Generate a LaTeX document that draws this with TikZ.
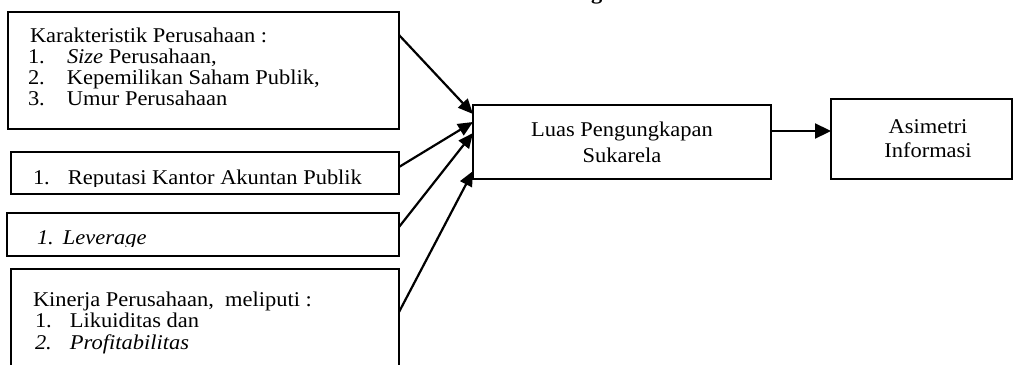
\documentclass[tikz,border=0pt]{standalone}
\usepackage{fontspec}
\setmainfont{Liberation Serif}[FakeStretch=1.07]
\usetikzlibrary{arrows.meta}
\tikzset{
  box/.style={draw, line width=1.8pt, inner sep=0pt, outer sep=0pt, anchor=north west},
  txt/.style={inner sep=0pt, outer sep=0pt, anchor=base west, font=\fontsize{21}{24}\selectfont},
  ctxt/.style={inner sep=0pt, outer sep=0pt, anchor=base, font=\fontsize{21}{24}\selectfont},
  link/.style={line width=2.2pt, -{Triangle[length=15pt,width=13pt]}},
}
\begin{document}
\begin{tikzpicture}[x=1pt,y=-1pt]
\useasboundingbox (0,0) rectangle (1014,364);
\clip (0,0) rectangle (1014,364);

% tail of the bold heading line above
\node[txt, font=\bfseries\fontsize{21}{24}\selectfont] (head) at (591,-0.5) {g};

% boxes
\node[box, minimum width=391pt, minimum height=117pt] (k) at (8,12) {};
\node[box, minimum width=388pt, minimum height=42pt] (r) at (11,152) {};
\node[box, minimum width=392pt, minimum height=43pt] (l) at (7,213) {};
\node[box, minimum width=388pt, minimum height=120pt] (p) at (11,269) {};
\node[box, minimum width=298pt, minimum height=74pt] (s) at (473,105) {};
\node[box, minimum width=181pt, minimum height=80pt] (a) at (831,99) {};

% company characteristics
\node[txt] (k0) at (30,42.5) {Karakteristik Perusahaan :};
\node[txt] (k1) at (28,63.6) {\makebox[39pt][l]{1.}\textit{Size} Perusahaan,};
\node[txt] (k2) at (28,84.7) {\makebox[39pt][l]{2.}Kepemilikan Saham Publik,};
\node[txt] (k3) at (28,105.8) {\makebox[39pt][l]{3.}Umur Perusahaan};

% auditor reputation (text box cuts the descenders)
\begin{scope}
  \clip (r.north west) rectangle ([yshift=8pt]r.south east);
  \node[txt] (r1) at (33,184) {\makebox[35pt][l]{1.}Reputasi Kantor Akuntan Publik};
\end{scope}

% leverage
\begin{scope}
  \clip (l.north west) rectangle ([yshift=10pt]l.south east);
  \node[txt] (l1) at (37,244) {\itshape\makebox[26pt][l]{1.}Leverage};
\end{scope}

% company performance
\node[txt] (p0) at (33,306) {Kinerja Perusahaan,\ \ meliputi :};
\node[txt] (p1) at (35,327.5) {\makebox[35pt][l]{1.}Likuiditas dan};
\node[txt] (p2) at (35,349) {\itshape\makebox[35pt][l]{2.}Profitabilitas};

% dependent variables
\node[ctxt] (s1) at (622,136.5) {Luas Pengungkapan};
\node[ctxt] (s2) at (622,162.5) {Sukarela};
\node[ctxt] (a1) at (928,133) {Asimetri};
\node[ctxt] (a2) at (928,157) {Informasi};

% connectors
\draw[link] ([yshift=-23pt]k.north east) -- ([yshift=-9pt]s.north west);
\draw[link] ([yshift=-15pt]r.north east) -- ([yshift=-17pt]s.north west);
\draw[link] ([yshift=-14pt]l.north east) -- ([yshift=-28pt]s.north west);
\draw[link] ([yshift=-43pt]p.north east) -- ([yshift=-66pt]s.north west);
\draw[line width=2.2pt, -{Triangle[length=16pt,width=15pt]}] ([yshift=11pt]s.east) -- ([yshift=8pt]a.west);
\end{tikzpicture}
\end{document}
